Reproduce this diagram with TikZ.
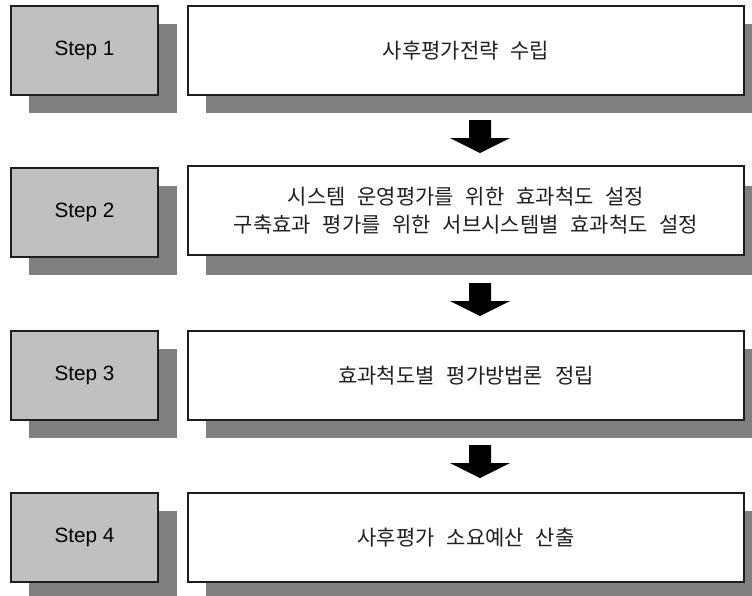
\documentclass[tikz,border=0pt]{standalone}
\usepackage{fontspec}
\setmainfont{Liberation Sans}
\newfontfamily\krfont[WordSpace=2.5]{Noto Sans CJK KR}
\definecolor{shadowgray}{HTML}{808080}
\definecolor{stepgray}{HTML}{C0C0C0}
\definecolor{edgegray}{HTML}{1E1E1E}
\definecolor{textgray}{HTML}{202020}
\tikzset{
  stepbox/.style={draw=edgegray, line width=1.4pt, fill=stepgray, minimum width=147pt, minimum height=89pt, inner sep=0pt, font=\fontsize{20.7}{24}\selectfont},
  mainbox/.style={draw=edgegray, line width=1.4pt, fill=white, minimum width=556pt, minimum height=89pt, inner sep=0pt, align=center, text=textgray, font=\krfont\fontsize{21}{28}\selectfont},
  shadowfill/.style={fill=shadowgray, draw=none},
  blockarrow/.style={fill=black, draw=none}
}
\begin{document}
\begin{tikzpicture}[x=1pt,y=-1pt]
\useasboundingbox (0,0) rectangle (752,595);
\clip (0,0) rectangle (752,595);
\foreach \t in {6,168,331,493}{
  \fill[shadowfill] (29,\t+18) rectangle (177,\t+107);
  \fill[shadowfill] (206,\t+18) rectangle (762,\t+107);
}
\node[stepbox] (s1) at (84.5,50.5) {Step 1};
\node[stepbox] (s2) at (84.5,212.5) {Step 2};
\node[stepbox] (s3) at (84.5,375.5) {Step 3};
\node[stepbox] (s4) at (84.5,537.5) {Step 4};
\node[mainbox] (m1) at (466,50.5) {사후평가전략 수립};
\node[mainbox] (m2) at (466,210.5) {시스템 운영평가를 위한 효과척도 설정\\구축효과 평가를 위한 서브시스템별 효과척도 설정};
\node[mainbox] (m3) at (466,375.5) {효과척도별 평가방법론 정립};
\node[mainbox] (m4) at (466,537.5) {사후평가 소요예산 산출};
\foreach \t in {120,283,445}{
  \fill[blockarrow] (469,\t) -- (491,\t) -- (491,\t+18) -- (510,\t+18) -- (480,\t+33) -- (450,\t+18) -- (469,\t+18) -- cycle;
}
\end{tikzpicture}
\end{document}
